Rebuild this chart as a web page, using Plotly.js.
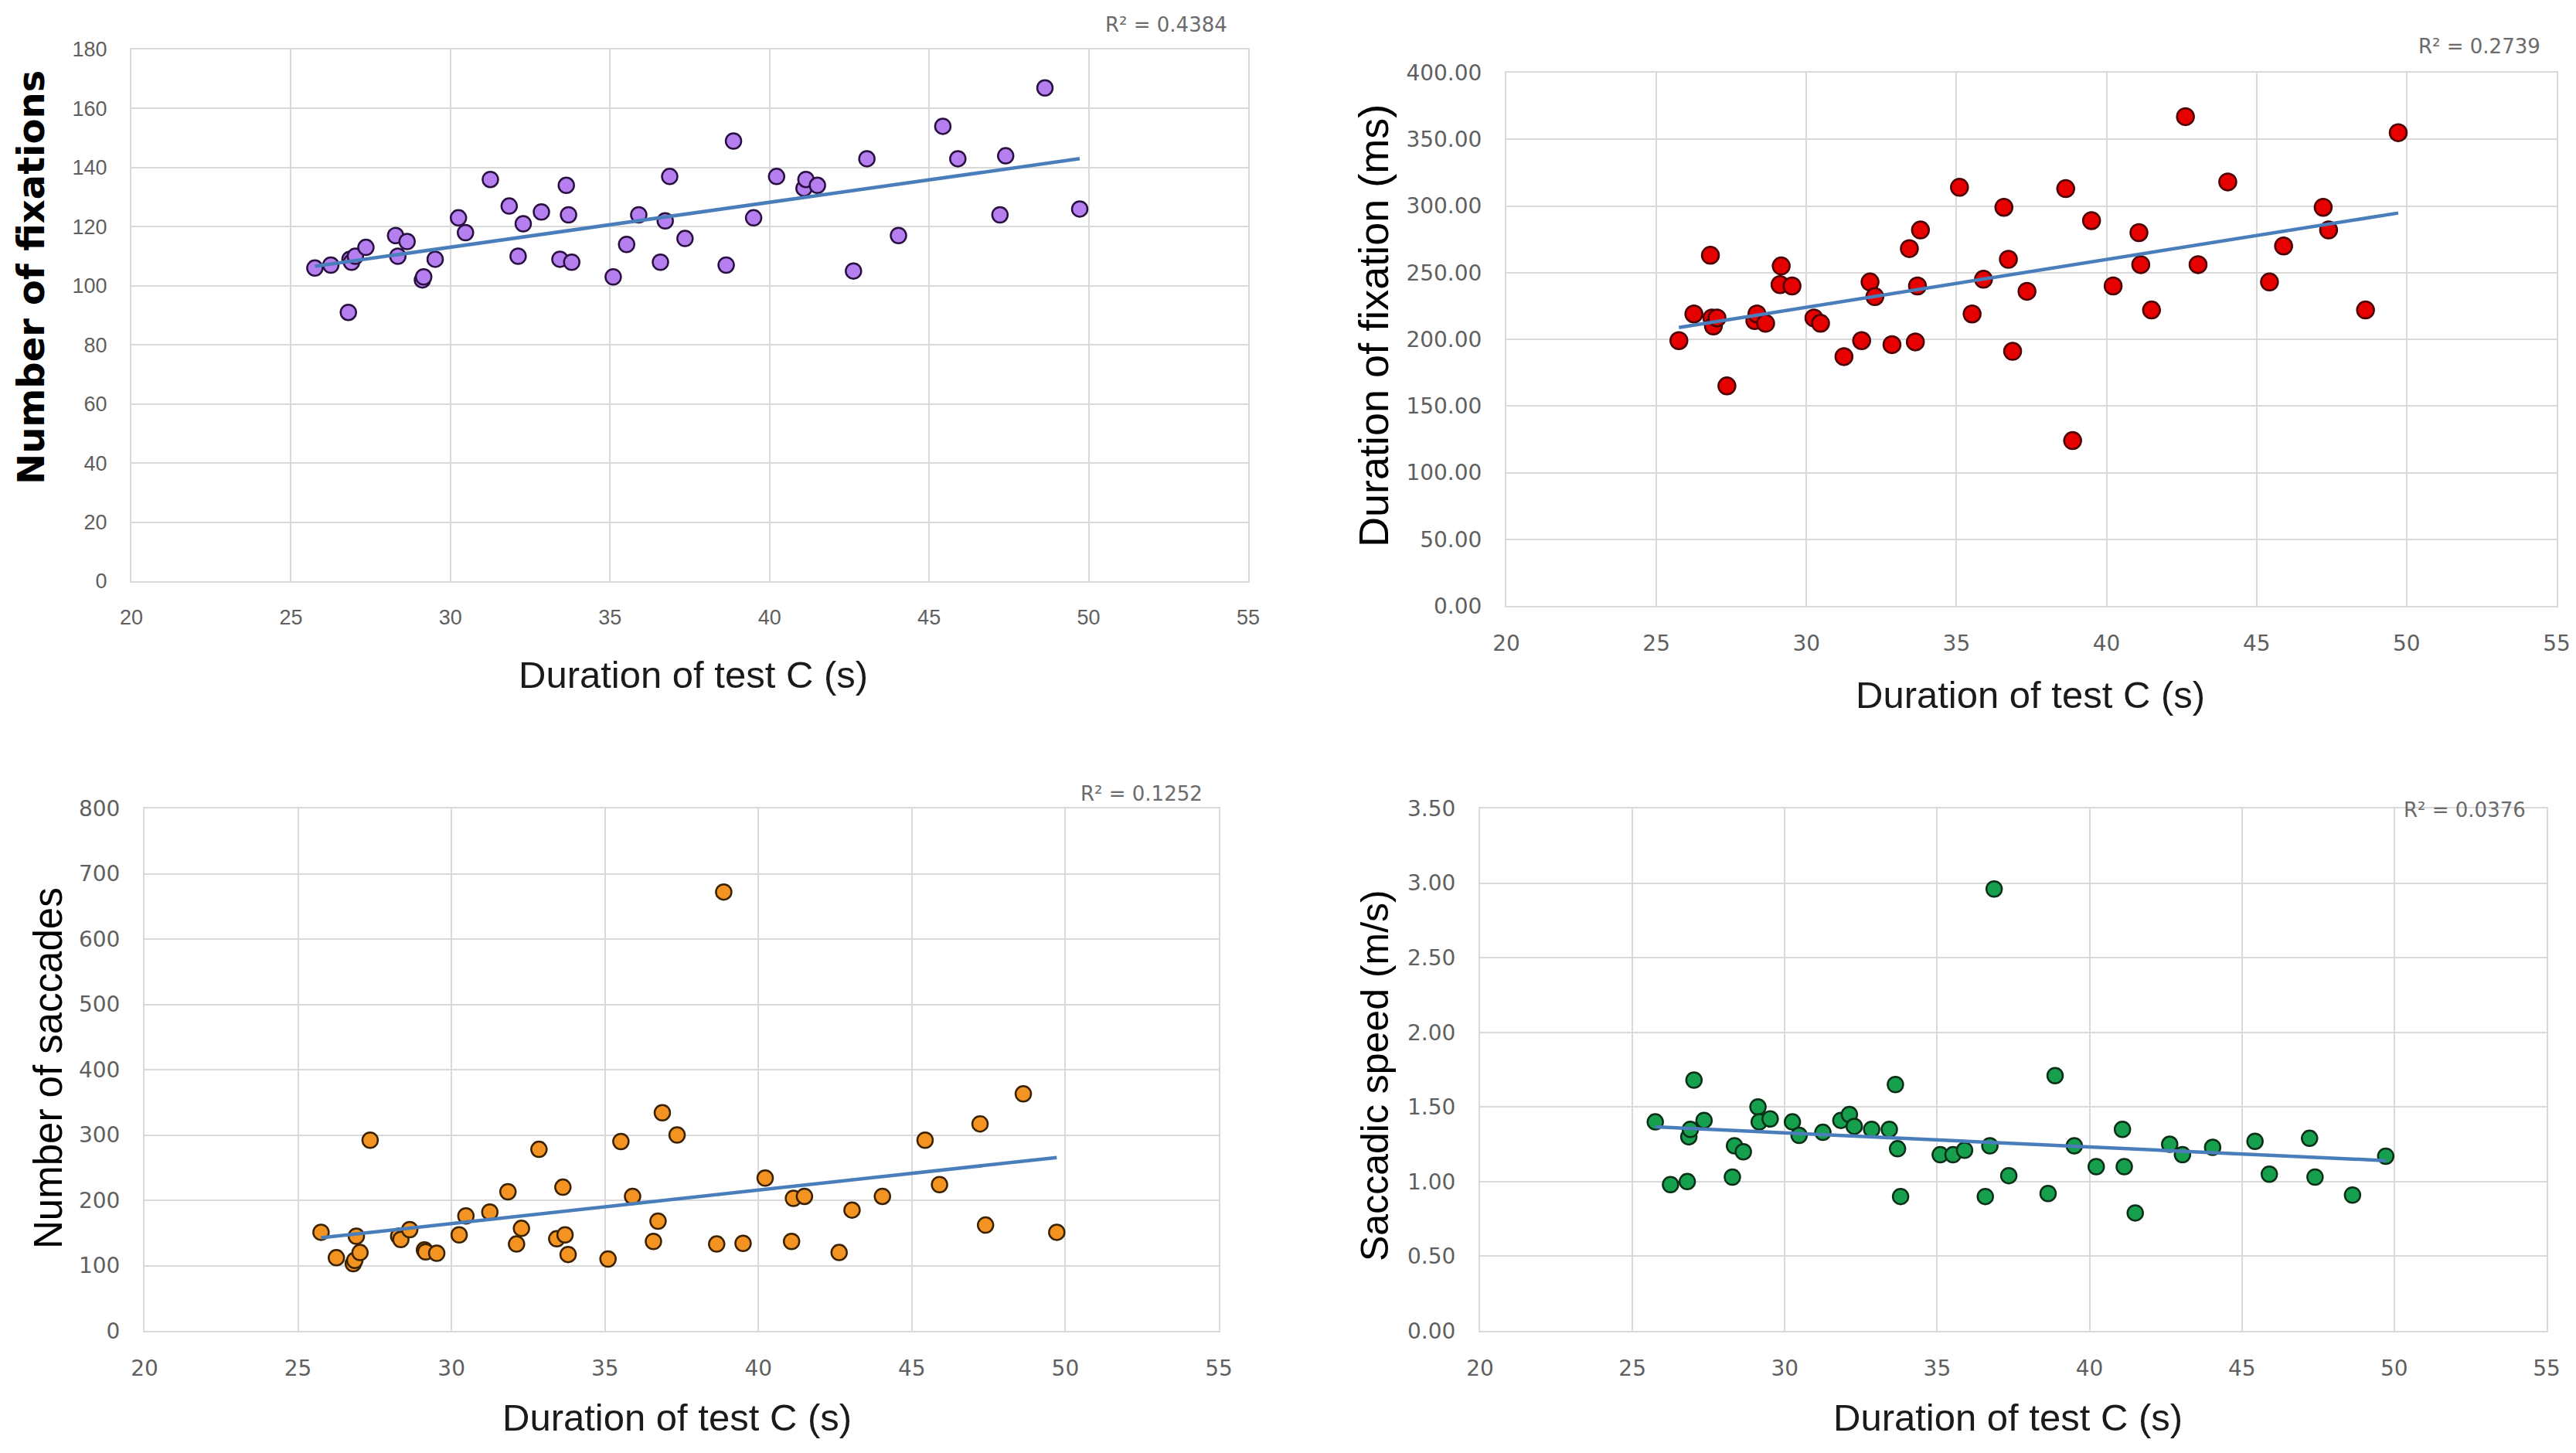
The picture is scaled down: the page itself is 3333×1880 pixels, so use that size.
<!DOCTYPE html>
<html>
<head>
<meta charset="utf-8">
<script src="https://cdn.plot.ly/plotly-3.0.1.min.js"></script>
<style>html,body{margin:0;padding:0;background:#fff;}#chart{width:3333px;height:1880px;}</style>
</head>
<body>
<div id="chart"></div>
<script>
// Duration of test C (s) for each participant
const durationC = [25.75, 26.25, 26.8, 26.85, 26.9, 27.02, 27.35, 28.28, 28.35, 28.64, 29.12, 29.16, 29.52, 30.25, 30.47, 31.25, 31.84, 32.12, 32.28, 32.85, 33.43, 33.63, 33.7, 33.8, 35.1, 35.52, 35.9, 36.58, 36.73, 36.87, 37.35, 38.64, 38.87, 39.5, 40.22, 41.08, 41.14, 41.5, 42.63, 43.05, 44.04, 45.43, 45.9, 47.22, 47.4, 48.63, 49.72];
// Number of fixations
const fixCount = [106, 107, 91, 109, 108, 110, 113, 117, 110, 115, 102, 103, 109, 123, 118, 136, 127, 110, 121, 125, 109, 134, 124, 108, 103, 114, 124, 108, 122, 137, 116, 107, 149, 123, 137, 133, 136, 134, 105, 143, 117, 154, 143, 124, 144, 167, 126];
// Duration of fixation (ms)
const fixDuration = [199, 219, 263, 216, 210, 216, 165, 214, 219, 212, 241, 255, 240, 216, 212, 187, 199, 243, 232, 196, 268, 198, 240, 282, 314, 219, 245, 299, 260, 191, 236, 313, 124, 289, 240, 280, 256, 222, 367, 256, 318, 243, 270, 299, 282, 222, 355];
// Number of saccades
const saccCount = [151, 112, 103, 108, 145, 120, 292, 145, 140, 155, 124, 121, 119, 147, 176, 182, 213, 133, 157, 278, 141, 220, 147, 117, 110, 290, 206, 137, 168, 334, 300, 133, 672, 134, 234, 137, 203, 206, 120, 185, 206, 292, 224, 317, 162, 363, 151];
// Saccadic speed (m/s)
const saccSpeed = [1.40, 0.98, 1.00, 1.30, 1.35, 1.68, 1.41, 1.03, 1.24, 1.20, 1.50, 1.40, 1.42, 1.40, 1.31, 1.33, 1.41, 1.45, 1.37, 1.35, 1.35, 1.65, 1.22, 0.90, 1.18, 1.18, 1.21, 0.90, 1.24, 2.96, 1.04, 0.92, 1.71, 1.24, 1.10, 1.35, 1.10, 0.79, 1.25, 1.18, 1.23, 1.27, 1.05, 1.29, 1.03, 0.91, 1.17];

const xTitle = 'Duration of test C (s)';
const yTitles = ['Number of fixations', 'Duration of fixation (ms)', 'Number of saccades', 'Saccadic speed (m/s)'];
const r2Labels = ['R² = 0.4384', 'R² = 0.2739', 'R² = 0.1252', 'R² = 0.0376'];

const W = 3333, H = 1880;
const px = p => p / W;
const py = p => 1 - p / H;

function fit(x, y) {
  const n = x.length;
  let sx = 0, sy = 0, sxx = 0, sxy = 0;
  for (let i = 0; i < n; i++) { sx += x[i]; sy += y[i]; sxx += x[i]*x[i]; sxy += x[i]*y[i]; }
  const b = (n*sxy - sx*sy) / (n*sxx - sx*sx);
  const a = (sy - b*sx) / n;
  const xmin = Math.min(...x), xmax = Math.max(...x);
  return {x: [xmin, xmax], y: [a + b*xmin, a + b*xmax]};
}

const series = [
  {y: fixCount, fill: '#b67ff0', edge: '#2a1040', size: 20},
  {y: fixDuration, fill: '#e60000', edge: '#4a0000', size: 22},
  {y: saccCount, fill: '#f39322', edge: '#3a2200', size: 20},
  {y: saccSpeed, fill: '#16a04e', edge: '#0b2e17', size: 20}
];

const traces = [];
series.forEach((s, i) => {
  const xa = i === 0 ? 'x' : 'x' + (i + 1);
  const ya = i === 0 ? 'y' : 'y' + (i + 1);
  traces.push({
    type: 'scatter', mode: 'markers', x: durationC, y: s.y, xaxis: xa, yaxis: ya,
    marker: {color: s.fill, size: s.size, line: {color: s.edge, width: 2.5}},
    showlegend: false, hoverinfo: 'x+y'
  });
  const t = fit(durationC, s.y);
  traces.push({
    type: 'scatter', mode: 'lines', x: t.x, y: t.y, xaxis: xa, yaxis: ya,
    line: {color: '#4a7ebb', width: 4.5}, showlegend: false, hoverinfo: 'skip'
  });
});

const grid = '#d9d9d9';
const tickFont1 = {family: 'Liberation Sans, Arial, sans-serif', size: 27, color: '#5f5f5f'};
const tickFont = {family: 'DejaVu Sans, sans-serif', size: 28, color: '#5f5f5f'};
function xax(dom, anchor, tf) {
  return {domain: dom, anchor: anchor, range: [20, 55], tick0: 20, dtick: 5, showgrid: true, gridcolor: grid, gridwidth: 2,
    zeroline: false, showline: true, linecolor: grid, linewidth: 2, mirror: true, ticks: '', tickfont: tf,
    ticklabelstandoff: 22, fixedrange: true};
}
function yax(dom, anchor, range, dtick, fmt, tf) {
  return {domain: dom, anchor: anchor, range: range, dtick: dtick, tick0: 0, tickformat: fmt, showgrid: true, gridcolor: grid, gridwidth: 2,
    zeroline: false, showline: true, linecolor: grid, linewidth: 2, mirror: true, ticks: '', tickfont: tf,
    ticklabelstandoff: 24, fixedrange: true};
}

const layout = {
  width: W, height: H, autosize: false,
  margin: {l: 0, r: 0, t: 0, b: 0},
  paper_bgcolor: '#ffffff', plot_bgcolor: '#ffffff',
  showlegend: false,
  xaxis: xax([px(170), px(1615)], 'y', tickFont1),
  yaxis: yax([py(752), py(64)], 'x', [0, 180], 20, 'd', tickFont1),
  xaxis2: xax([px(1949), px(3308)], 'y2', tickFont),
  yaxis2: yax([py(784), py(94)], 'x2', [0, 400], 50, '.2f', tickFont),
  xaxis3: xax([px(187), px(1577)], 'y3', tickFont),
  yaxis3: yax([py(1722), py(1046)], 'x3', [0, 800], 100, 'd', tickFont),
  xaxis4: xax([px(1915), px(3295)], 'y4', tickFont),
  yaxis4: yax([py(1722), py(1046)], 'x4', [0, 3.5], 0.5, '.2f', tickFont),
  annotations: []
};

const xTitlePos = [[897, 873], [2627, 899], [876, 1834], [2598, 1834]];
const yTitlePos = [[40, 359], [1777, 422], [62, 1382], [1779, 1392]];
const r2Pos = [[1509, 32], [3208, 60], [1477, 1027], [3189, 1048]];
const xFont = {family: 'Liberation Sans, Arial, sans-serif', size: 49, color: '#1a1a1a'};
const yFonts = [
  {family: 'DejaVu Sans, sans-serif', size: 48, color: '#000000', weight: 'bold'},
  {family: 'Liberation Sans, Arial, sans-serif', size: 54, color: '#000000'},
  {family: 'Liberation Sans, Arial, sans-serif', size: 51, color: '#000000'},
  {family: 'Liberation Sans, Arial, sans-serif', size: 50, color: '#000000'}
];
for (let i = 0; i < 4; i++) {
  layout.annotations.push({xref: 'paper', yref: 'paper', x: px(xTitlePos[i][0]), y: py(xTitlePos[i][1]),
    xanchor: 'center', yanchor: 'middle', showarrow: false, text: xTitle, font: xFont});
  layout.annotations.push({xref: 'paper', yref: 'paper', x: px(yTitlePos[i][0]), y: py(yTitlePos[i][1]),
    xanchor: 'center', yanchor: 'middle', showarrow: false, textangle: -90, text: yTitles[i], font: yFonts[i]});
  layout.annotations.push({xref: 'paper', yref: 'paper', x: px(r2Pos[i][0]), y: py(r2Pos[i][1]),
    xanchor: 'center', yanchor: 'middle', showarrow: false, text: r2Labels[i],
    font: {family: 'DejaVu Sans, sans-serif', size: 26, color: '#6b6b6b'}});
}

Plotly.newPlot('chart', traces, layout, {displayModeBar: false, staticPlot: true});
</script>
</body>
</html>
